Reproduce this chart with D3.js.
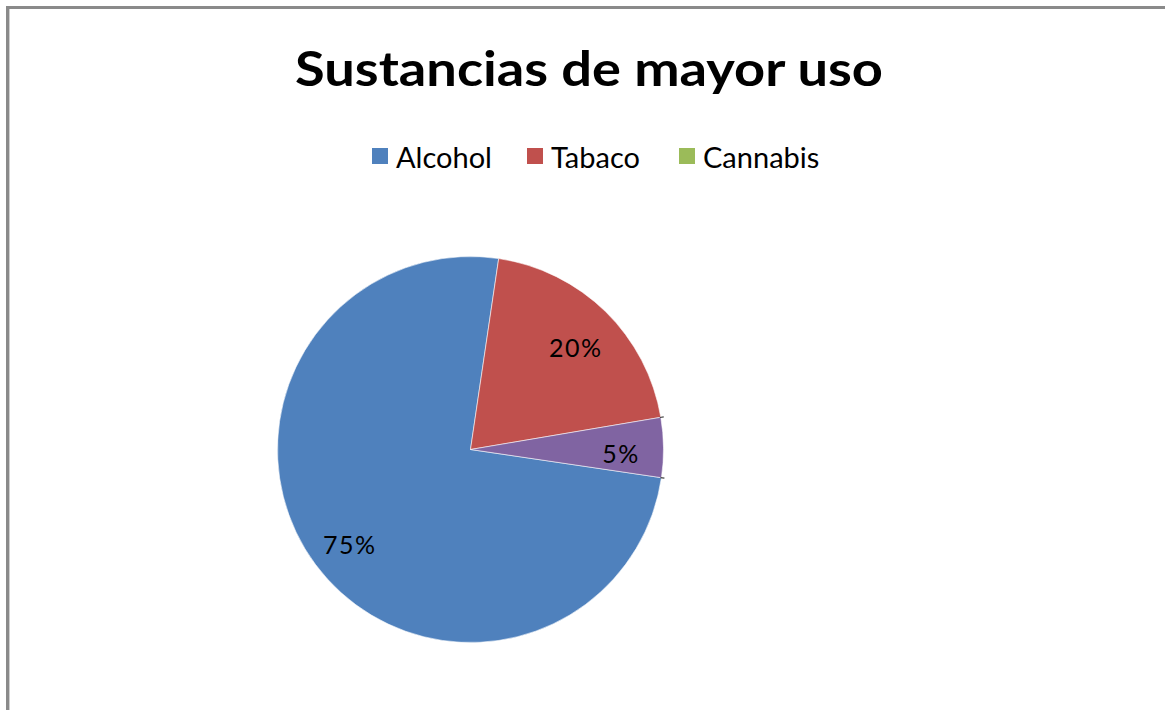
<!DOCTYPE html>
<html><head><meta charset="utf-8">
<script src="https://cdn.jsdelivr.net/npm/d3@7"></script>
<style>html,body{margin:0;padding:0;background:#fff;overflow:hidden}</style>
</head><body>
<svg id="chart" width="1165" height="710"></svg>
<script>
const title = "Sustancias de mayor uso";
const categories = ["Alcohol", "Tabaco", "Cannabis"];
const values = [75, 20, 5];
const legendColors = ["#4F81BD", "#C0504D", "#9BBB59"];
const sliceColors = ["#4F81BD", "#C0504D", "#8064A2"];
const labels = ["75%", "20%", "5%"];

const svg = d3.select("#chart");
const W = 1165, H = 710;
svg.append("rect").attr("width", W).attr("height", H).attr("fill", "#fff");

// frame
svg.append("line").attr("x1", 7).attr("x2", W).attr("y1", 7.5).attr("y2", 7.5)
  .attr("stroke", "#8a8a8a").attr("stroke-width", 3);
svg.append("line").attr("x1", 7.5).attr("x2", 7.5).attr("y1", 6).attr("y2", H)
  .attr("stroke", "#8a8a8a").attr("stroke-width", 3);
svg.append("line").attr("x1", 9.5).attr("x2", 9.5).attr("y1", 9).attr("y2", H)
  .attr("stroke", "#cfcfcf").attr("stroke-width", 1);

// title
svg.append("text").attr("x", 295).attr("y", 86)
  .attr("textLength", 588).attr("lengthAdjust", "spacingAndGlyphs")
  .attr("font-family", "Lato, 'Open Sans', sans-serif").attr("font-weight", "bold")
  .attr("font-size", 47).attr("fill", "#000").text(title);

// legend
const legendX = [372, 527, 679];
const lg = svg.append("g");
categories.forEach((c, i) => {
  lg.append("rect").attr("x", legendX[i]).attr("y", 148).attr("width", 16).attr("height", 16)
    .attr("fill", legendColors[i]);
  lg.append("text").attr("x", legendX[i] + 24).attr("y", 168)
    .attr("font-family", "Lato, 'Open Sans', sans-serif").attr("font-size", 29)
    .attr("fill", "#000").text(c);
});

// pie
const cx = 470.5, cy = 449.5, R = 193;
const start = 98.4 * Math.PI / 180;
const pie = d3.pie().sort(null).startAngle(start).endAngle(start + 2 * Math.PI);
const arcs = pie(values);
const arc = d3.arc().innerRadius(0).outerRadius(R);
const labelArc = d3.arc().innerRadius(R * 0.78).outerRadius(R * 0.78);
const g = svg.append("g").attr("transform", `translate(${cx},${cy})`);
g.selectAll("path").data(arcs).join("path")
  .attr("d", arc).attr("fill", (d, i) => sliceColors[i])
  .attr("stroke", "#fff").attr("stroke-width", 0.8).attr("stroke-opacity", 0.7);

// small dark ticks at the edges of the smallest slice
const last = arcs[arcs.length - 1];
[last.startAngle, last.endAngle].forEach(a => {
  g.append("line")
    .attr("x1", Math.sin(a) * (R - 1)).attr("y1", -Math.cos(a) * (R - 1))
    .attr("x2", Math.sin(a) * (R + 3)).attr("y2", -Math.cos(a) * (R + 3))
    .attr("stroke", "#444").attr("stroke-width", 1.2);
});

g.selectAll("text").data(arcs).join("text")
  .attr("transform", d => `translate(${labelArc.centroid(d)})`)
  .attr("text-anchor", "middle").attr("dy", "0.6em")
  .attr("font-family", "Lato, 'Open Sans', sans-serif").attr("font-size", 25)
  .attr("letter-spacing", 1.5)
  .attr("fill", "#000").text((d, i) => labels[i]);
</script>
</body></html>
